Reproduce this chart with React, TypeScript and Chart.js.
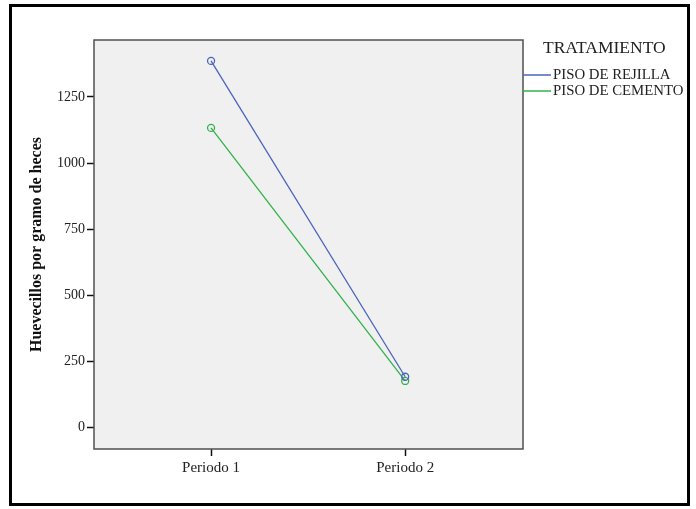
import React, { useEffect, useRef } from "react";
import { Chart, registerables } from "chart.js";

Chart.register(...registerables);

const categories = ["Periodo 1", "Periodo 2"];
const categoryPositions = [1, 2];
const rejilla = [1386, 193];
const cemento = [1133, 177];
const yTicks = [0, 250, 500, 750, 1000, 1250];
const seriesNames = ["PISO DE REJILLA", "PISO DE CEMENTO"];
const legendTitle = "TRATAMIENTO";
const yTitle = "Huevecillos por gramo de heces";

const BLUE = "#4a64bd";
const GREEN = "#32b24c";
const SERIF = "'Liberation Serif', 'DejaVu Serif', serif";

export default function App() {
  const ref = useRef<HTMLCanvasElement | null>(null);

  useEffect(() => {
    if (!ref.current) return;
    const decor = {
      id: "decor",
      beforeDatasetsDraw(chart: any) {
        const { ctx, chartArea: a } = chart;
        ctx.save();
        ctx.fillStyle = "#f0f0f0";
        ctx.fillRect(a.left, a.top, a.right - a.left, a.bottom - a.top);
        ctx.strokeStyle = "#505050";
        ctx.lineWidth = 1.5;
        ctx.strokeRect(a.left, a.top, a.right - a.left, a.bottom - a.top);
        ctx.restore();
      },
      afterDraw(chart: any) {
        const { ctx, chartArea: a } = chart;
        ctx.save();
        // outer frame
        ctx.strokeStyle = "#000";
        ctx.lineWidth = 3;
        ctx.strokeRect(10.5, 5.5, 678, 499);
        // legend
        ctx.fillStyle = "#222";
        ctx.textBaseline = "middle";
        ctx.textAlign = "left";
        ctx.font = `17.5px ${SERIF}`;
        ctx.fillText(legendTitle, a.right + 20, a.top + 8);
        const colors = [BLUE, GREEN];
        ctx.font = `14.8px ${SERIF}`;
        seriesNames.forEach((n, i) => {
          const y = a.top + 35 + i * 16;
          ctx.strokeStyle = colors[i];
          ctx.lineWidth = 1.5;
          ctx.beginPath();
          ctx.moveTo(a.right, y);
          ctx.lineTo(a.right + 28, y);
          ctx.stroke();
          ctx.fillStyle = "#222";
          ctx.fillText(n, a.right + 30, y);
        });
        ctx.restore();
      },
    };

    const toPts = (vals: number[]) => vals.map((v, i) => ({ x: categoryPositions[i], y: v }));

    const chart = new Chart(ref.current, {
      type: "line",
      data: {
        datasets: [
          {
            label: seriesNames[0],
            data: toPts(rejilla),
            borderColor: BLUE,
            borderWidth: 1.3,
            pointRadius: 3.5,
            pointBorderWidth: 1.3,
            pointBorderColor: BLUE,
            pointBackgroundColor: "rgba(0,0,0,0)",
          },
          {
            label: seriesNames[1],
            data: toPts(cemento),
            borderColor: GREEN,
            borderWidth: 1.3,
            pointRadius: 3.5,
            pointBorderWidth: 1.3,
            pointBorderColor: GREEN,
            pointBackgroundColor: "rgba(0,0,0,0)",
          },
        ],
      },
      plugins: [decor],
      options: {
        responsive: false,
        animation: false,
        layout: { padding: { top: 40, right: 173, left: 0, bottom: 0 } },
        plugins: { legend: { display: false }, tooltip: { enabled: false } },
        scales: {
          x: {
            type: "linear",
            min: 0.397,
            max: 2.607,
            afterBuildTicks: (s: any) => {
              s.ticks = categoryPositions.map((v) => ({ value: v }));
            },
            afterFit: (s: any) => {
              s.height = 60;
            },
            ticks: {
              callback: (v: any) => categories[categoryPositions.indexOf(Number(v))] ?? "",
              font: { family: SERIF, size: 15 },
              color: "#222",
              padding: 3,
              maxRotation: 0,
            },
            grid: {
              drawOnChartArea: false,
              drawTicks: true,
              tickLength: 7,
              tickColor: "#111",
              tickWidth: 1.5,
            },
            border: { display: false },
          },
          y: {
            type: "linear",
            min: -80,
            max: 1465,
            afterBuildTicks: (s: any) => {
              s.ticks = yTicks.map((v) => ({ value: v }));
            },
            afterFit: (s: any) => {
              s.width = 94;
            },
            ticks: {
              callback: (v: any) => String(v),
              font: { family: SERIF, size: 14 },
              color: "#222",
              padding: 2,
            },
            grid: {
              drawOnChartArea: false,
              drawTicks: true,
              tickLength: 7,
              tickColor: "#111",
              tickWidth: 1.5,
            },
            border: { display: false },
            title: {
              display: true,
              text: yTitle,
              font: { family: SERIF, size: 16, weight: "bold" },
              color: "#111",
              padding: { top: 27, bottom: 0 },
            },
          },
        },
      },
    });
    return () => chart.destroy();
  }, []);

  return (
    <div style={{ position: "fixed", left: 0, top: 0, width: 696, height: 509, background: "#fff" }}>
      <canvas ref={ref} width={696} height={509} style={{ display: "block" }} />
    </div>
  );
}
